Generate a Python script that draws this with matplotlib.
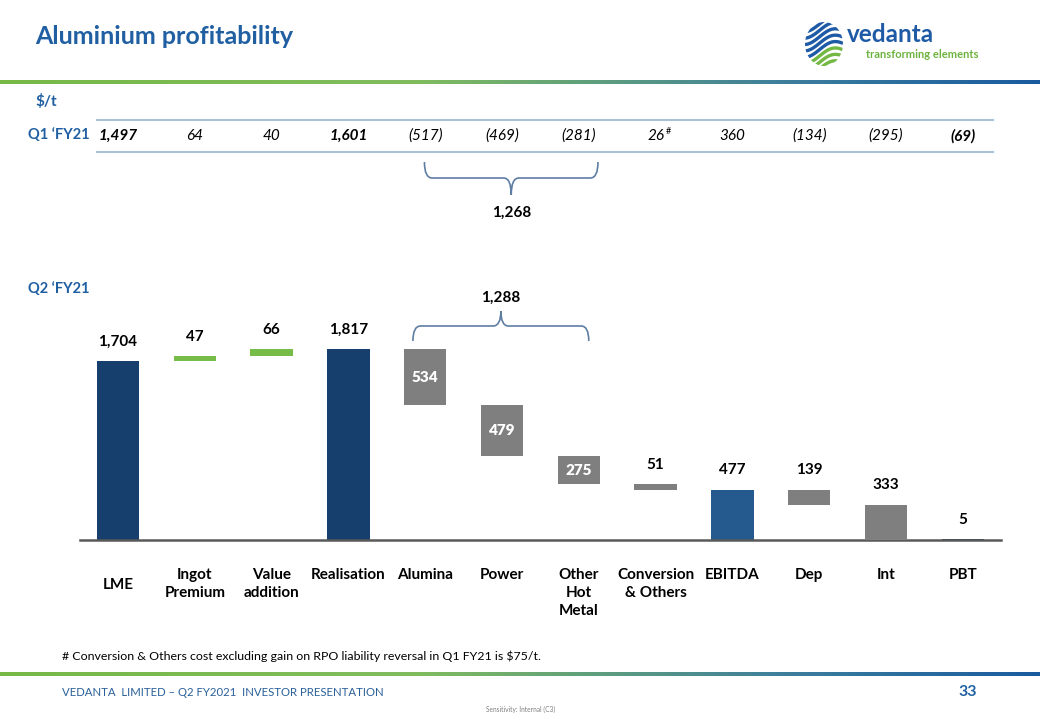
import numpy as np
import matplotlib
matplotlib.use('Agg')
import matplotlib.pyplot as plt
from matplotlib.path import Path
from matplotlib.patches import PathPatch, Ellipse
from matplotlib.lines import Line2D
from matplotlib.colors import LinearSegmentedColormap
from matplotlib.transforms import blended_transform_factory

plt.rcParams['font.family'] = ['Lato', 'DejaVu Sans']

# data
categories = ['LME', 'Ingot\nPremium', 'Value\naddition', 'Realisation', 'Alumina', 'Power',
              'Other\nHot\nMetal', 'Conversion\n& Others', 'EBITDA', 'Dep', 'Int', 'PBT']
q2_values = [1704, 47, 66, 1817, 534, 479, 275, 51, 477, 139, 333, 5]
q2_kinds = ['total', 'up', 'up', 'total', 'down', 'down', 'down', 'down',
            'total', 'down', 'down', 'total']
q1_values = [1497, 64, 40, 1601, -517, -469, -281, 26, 360, -134, -295, -69]
q1_bold = [0, 3, 11]
hot_metal = [4, 5, 6]
q1_hot_metal_total = 1268
q2_hot_metal_total = 1288

BLUE = '#1F5FA2'
W, H = 1040, 720


def fx(px):
    return px / W


def fy(py):
    return 1 - py / H


fig = plt.figure(figsize=(W / 100, H / 100), dpi=100)

# waterfall geometry
bottoms, heights = [], []
level = 0
for v, k in zip(q2_values, q2_kinds):
    if k == 'total':
        bottoms.append(0)
        level = v
    elif k == 'up':
        bottoms.append(level)
        level += v
    else:
        level -= v
        bottoms.append(level)
    heights.append(v)

colors = []
for i, k in enumerate(q2_kinds):
    if k == 'up':
        colors.append('#76BC48')
    elif k == 'down':
        colors.append('#7F7F7F')
    elif categories[i] == 'EBITDA':
        colors.append('#245A8E')
    else:
        colors.append('#173F6E')

ax = fig.add_axes([fx(79.6), fy(540), fx(921.6), 210 / H])
x = np.arange(len(categories))
ax.bar(x, heights, bottom=bottoms, width=0.55, color=colors, edgecolor='none')
ax.set_xlim(-0.5, len(categories) - 0.5)
ax.set_ylim(0, 2000)
ax.set_xticks([])
ax.set_yticks([])
for s in ['top', 'left', 'right']:
    ax.spines[s].set_visible(False)
ax.spines['bottom'].set_color('#595959')
ax.spines['bottom'].set_linewidth(1.8)

# value labels
for i in range(len(categories)):
    top = bottoms[i] + heights[i]
    lab = f'{q2_values[i]:,}'
    if i in hot_metal:
        ax.text(i, bottoms[i] + heights[i] / 2, lab, ha='center', va='center',
                color='white', fontsize=11, fontweight='heavy')
    else:
        ax.annotate(lab, (i, top), xytext=(0, 14), textcoords='offset points',
                    ha='center', va='center', fontsize=11, fontweight='bold',
                    annotation_clip=False)

tr = blended_transform_factory(ax.transData, fig.transFigure)

# category labels
for i, c in enumerate(categories):
    if c == 'LME':
        ax.text(i, fy(585), c, transform=tr, ha='center', va='center',
                fontsize=11, fontweight='bold', clip_on=False)
    else:
        ax.text(i, fy(568), c, transform=tr, ha='center', va='top',
                fontsize=11, fontweight='bold', linespacing=1.35, clip_on=False)

# Q1 row
fig.add_artist(Line2D([fx(97), fx(993)], [fy(120)] * 2, color='#A9C0D8', lw=1.5))
fig.add_artist(Line2D([fx(97), fx(993)], [fy(152)] * 2, color='#A9C0D8', lw=1.5))
for i, v in enumerate(q1_values):
    lab = f'({-v:,})' if v < 0 else f'{v:,}'
    ax.text(i, fy(136), lab, transform=tr, ha='center', va='center', fontsize=11,
            style='italic', fontweight='bold' if i in q1_bold else 'normal',
            clip_on=False)
    if categories[i].startswith('Conversion'):
        ax.annotate('#', (i, fy(136)), xycoords=tr, xytext=(7, 3),
                    textcoords='offset points', fontsize=6.5, ha='left', va='center')


def brace(x0, x1, y_leg, y_bar, y_tip, r=0.1):
    xm = (x0 + x1) / 2
    verts = [(x0, fy(y_leg)), (x0, fy(y_bar)), (x0 + r, fy(y_bar)),
             (xm - r, fy(y_bar)), (xm, fy(y_bar)), (xm, fy(y_tip)),
             (xm, fy(y_bar)), (xm + r, fy(y_bar)),
             (x1 - r, fy(y_bar)), (x1, fy(y_bar)), (x1, fy(y_leg))]
    codes = [Path.MOVETO, Path.CURVE3, Path.CURVE3, Path.LINETO, Path.CURVE3, Path.CURVE3,
             Path.CURVE3, Path.CURVE3, Path.LINETO, Path.CURVE3, Path.CURVE3]
    p = PathPatch(Path(verts, codes), transform=tr, fill=False, edgecolor='#5E7FA3',
                  lw=1.2, clip_on=False)
    ax.add_patch(p)
    return xm


xm1 = brace(hot_metal[0] - 0.01, hot_metal[-1] + 0.25, 162, 178, 195)
ax.text(xm1, fy(213), f'{q1_hot_metal_total:,}', transform=tr, ha='center', va='center',
        fontsize=11, fontweight='bold', clip_on=False)
xm2 = brace(hot_metal[0] - 0.16, hot_metal[-1] + 0.13, 341, 326, 311)
ax.text(xm2, fy(298), f'{q2_hot_metal_total:,}', transform=tr, ha='center', va='center',
        fontsize=11, fontweight='bold', clip_on=False)

# slide texts
fig.text(fx(35), fy(37), 'Aluminium profitability', color=BLUE, fontsize=18,
         fontweight='bold', va='center')
fig.text(fx(35), fy(102), '$/t', color=BLUE, fontsize=11, fontweight='bold', va='center')
fig.text(fx(28), fy(135), 'Q1 \u2018FY21', color=BLUE, fontsize=10.5, fontweight='bold',
         va='center')
fig.text(fx(28), fy(289), 'Q2 \u2018FY21', color=BLUE, fontsize=10.5, fontweight='bold',
         va='center')
fig.text(fx(62), fy(656), '# Conversion & Others cost excluding gain on RPO liability '
         'reversal in Q1 FY21 is $75/t.', fontsize=8.9, va='center')
fig.text(fx(62), fy(693), 'VEDANTA  LIMITED \u2013 Q2 FY2021  INVESTOR PRESENTATION',
         color='#2A6099', fontsize=8.2, va='center')
fig.text(fx(968), fy(692), '33', color=BLUE, fontsize=11.5, fontweight='bold',
         ha='center', va='center')
fig.text(fx(521), fy(709), 'Sensitivity: Internal (C3)', color='#808080', fontsize=4.8,
         ha='center', va='center')

# gradient rules
cmap = LinearSegmentedColormap.from_list(
    'rule', [(0, '#76B947'), (0.4, '#80BC5E'), (0.75, '#3E7F9C'), (1, '#1A5BA0')])
grad = np.linspace(0, 1, 512).reshape(1, -1)
for py in (80, 672):
    gax = fig.add_axes([0, fy(py + 4), 1, 4 / H])
    gax.imshow(grad, aspect='auto', cmap=cmap)
    gax.axis('off')

# logo
lax = fig.add_axes([fx(805), fy(66), fx(38), 44 / H])
lax.set_xlim(-1, 1)
lax.set_ylim(-1.1, 1.1)
lax.axis('off')
clip = Ellipse((0, 0), 2, 2.2, transform=lax.transData)
xs = np.linspace(-1, 1, 60)
for k in range(8):
    y0 = -1.2 + 0.32 * k
    ys = y0 + 0.28 * np.sin(2.2 * xs + 0.5) + 0.15 * xs
    ln, = lax.plot(xs, ys, color='#1E5AA6' if k >= 3 else '#72B843', lw=2.4,
                   solid_capstyle='butt')
    ln.set_clip_path(clip)
fig.text(fx(847), fy(35), 'vedanta', color='#1E5AA6', fontsize=17.5, fontweight='bold',
         va='center')
fig.text(fx(866), fy(54), 'transforming elements', color='#6DB33F', fontsize=8,
         fontweight='bold', va='center')

fig.savefig('out.png', dpi=100)
